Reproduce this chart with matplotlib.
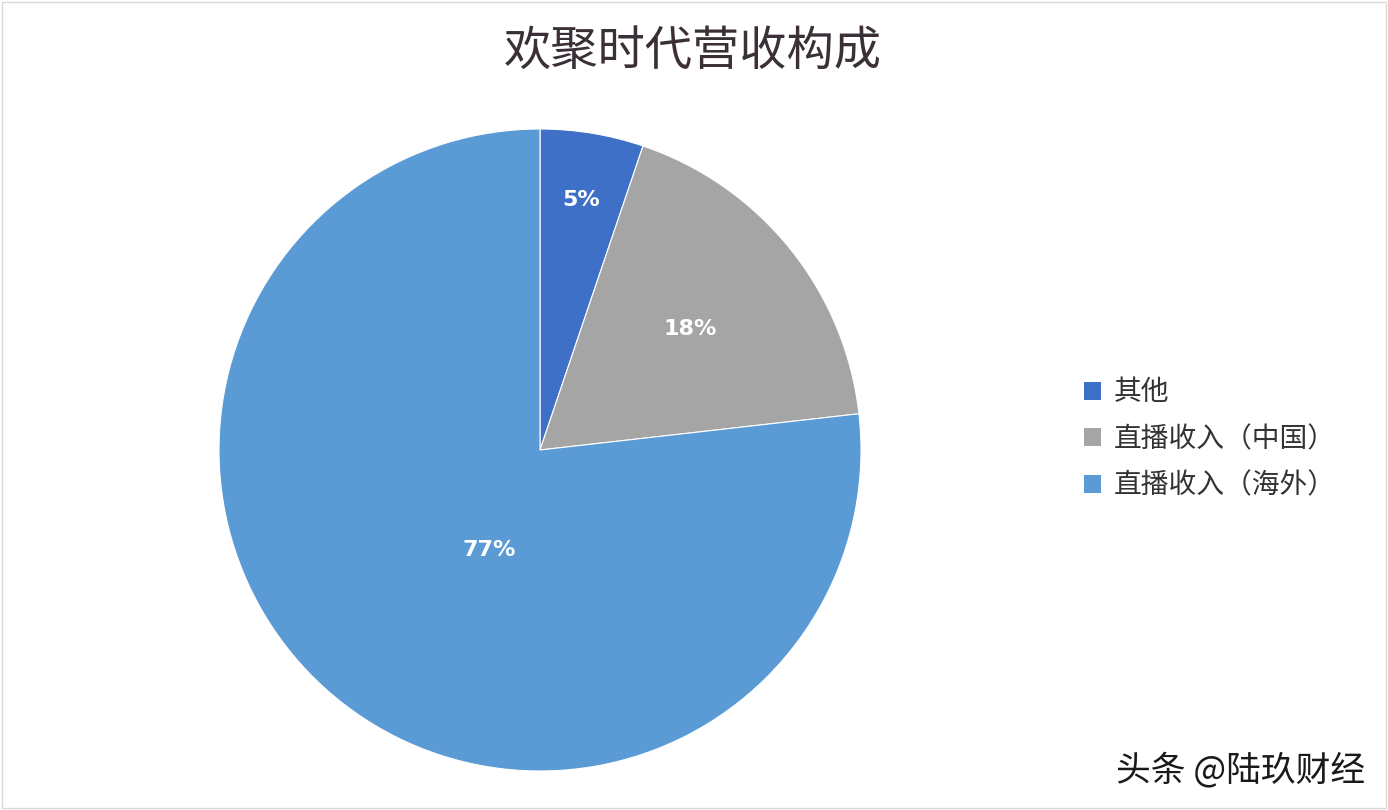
import matplotlib
matplotlib.use("Agg")
import matplotlib.pyplot as plt
from matplotlib.patches import Rectangle, Patch
import numpy as np

plt.rcParams['font.family'] = ['Noto Sans CJK SC', 'DejaVu Sans']

title = "欢聚时代营收构成"
categories = ["其他", "直播收入（中国）", "直播收入（海外）"]
values = [5.2, 18.0, 76.8]
pct_labels = ["5%", "18%", "77%"]
colors = ["#3F70C7", "#A5A5A5", "#5B9BD5"]
label_dist = [0.79, 0.60, 0.35]
label_shift = [0, 0, 15]

W, H = 1388, 810
fig = plt.figure(figsize=(W / 100, H / 100), dpi=100)
fig.patch.set_facecolor("white")

cx, cy, R = 540, 450, 321
ax = fig.add_axes([(cx - R) / W, (H - cy - R) / H, 2 * R / W, 2 * R / H])
wedges, _ = ax.pie(values, colors=colors, startangle=90, counterclock=False,
                   radius=1.0, wedgeprops=dict(edgecolor="white", linewidth=0.8))
ax.set_xlim(-1, 1)
ax.set_ylim(-1, 1)
ax.set_aspect("equal")
ax.axis("off")

for w, lab, d, s in zip(wedges, pct_labels, label_dist, label_shift):
    ang = np.deg2rad((w.theta1 + w.theta2) / 2 + s)
    ax.text(d * np.cos(ang), d * np.sin(ang), lab, ha="center", va="center",
            color="white", fontsize=16, fontweight="bold", family="DejaVu Sans")

fig.text(693 / W, 1 - 52 / H, title, ha="center", va="center",
         fontsize=34, color="#3B3038")

handles = [Patch(facecolor=c, edgecolor="none") for c in colors]
leg = fig.legend(handles, categories, loc="center left",
                 bbox_to_anchor=(1059 / W, 1 - 439 / H), frameon=False,
                 fontsize=20, handlelength=0.62, handleheight=0.62,
                 handletextpad=0.45, labelspacing=0.6, labelcolor="#333333")

fig.text(1365 / W, 1 - 770 / H, "头条 @陆玖财经", ha="right", va="center",
         fontsize=25, color="#1a1a1a")

fig.patches.append(Rectangle((2 / W, 2 / H), 1 - 4 / W, 1 - 4 / H,
                             transform=fig.transFigure, fill=False,
                             edgecolor="#D9D9D9", linewidth=1.0))

fig.savefig("out.png", dpi=100)
